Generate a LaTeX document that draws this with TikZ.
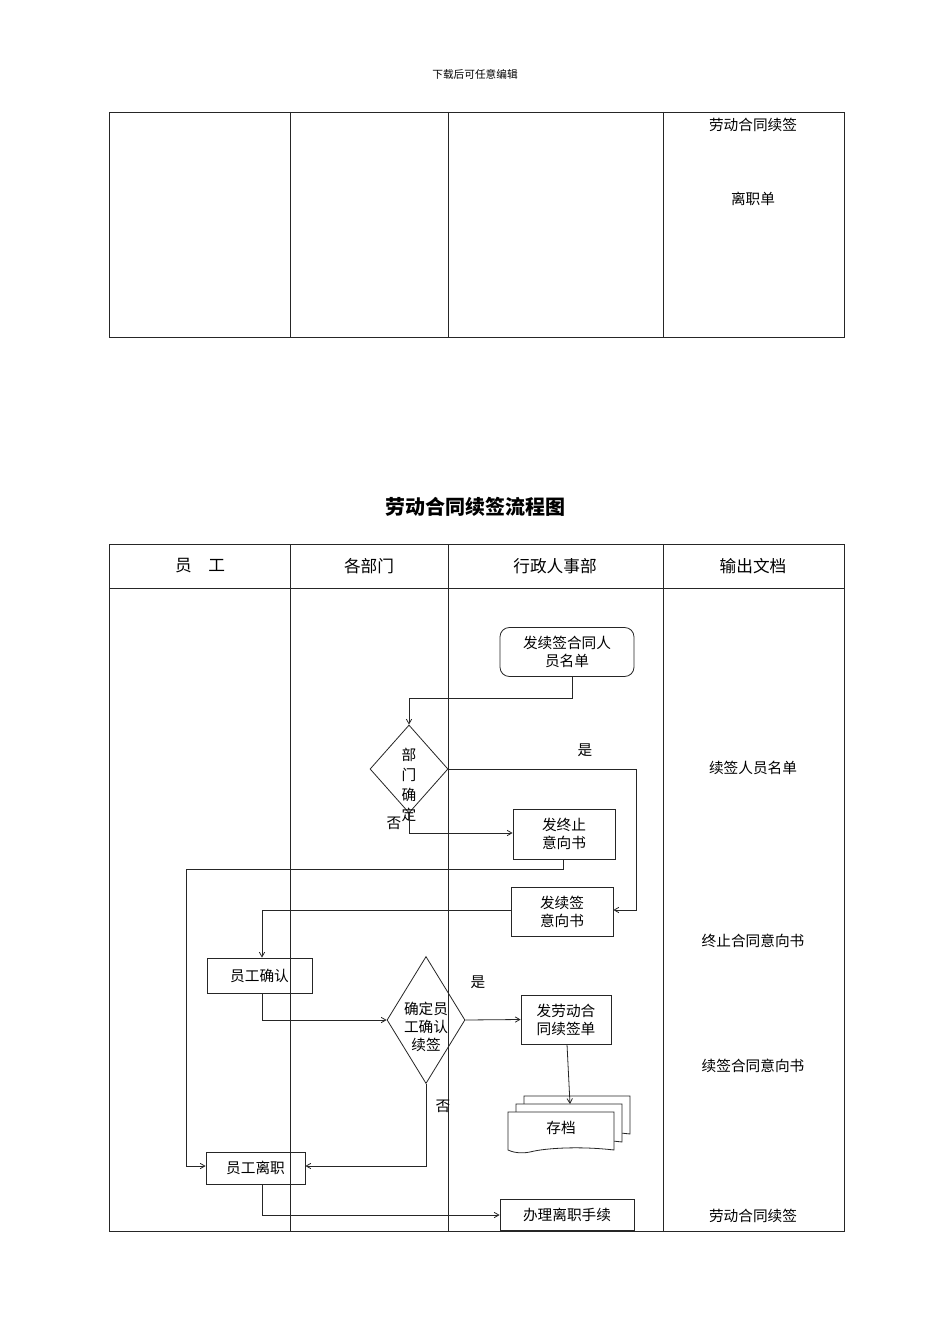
\documentclass[tikz,border=0pt]{standalone}
\usepackage{fontspec}
\setmainfont{Noto Sans CJK SC}
\usetikzlibrary{shapes.geometric,arrows.meta}
\begin{document}
\begin{tikzpicture}[x=0.75pt,y=-0.75pt,
  lin/.style={draw=black!85,line width=0.6pt},
  arr/.style={lin,-{Straight Barb[length=3.5pt,width=4pt]}},
  box/.style={draw=black!85,line width=0.6pt,align=center,inner sep=0pt,font=\fontsize{11}{13.5}\selectfont},
  txt/.style={align=center,inner sep=0pt,font=\fontsize{11}{13.5}\selectfont},
  dia/.style={draw=black!85,line width=0.6pt,diamond,inner sep=0pt}]
\useasboundingbox[fill=white] (0,0) rectangle (950,1344);
\node[font=\fontsize{8}{10}\selectfont] (hd) at (475,74) {下载后可任意编辑};
% top table
\draw[lin] (109,112) rectangle (844,337);
\foreach \x in {290,448,663} \draw[lin] (\x,112) -- (\x,337);
\node[txt] (t1) at (753,125) {劳动合同续签};
\node[txt] (t2) at (753,199) {离职单};
% title
\node[font=\fontsize{15}{18}\selectfont\bfseries] (title) at (475,507) {劳动合同续签流程图};
% main table
\draw[lin] (109,544) rectangle (844,1231);
\draw[lin] (109,588) -- (844,588);
\foreach \x in {290,448,663} \draw[lin] (\x,544) -- (\x,1231);
\node[txt,font=\fontsize{12.5}{15}\selectfont] (h1) at (200,566) {员\quad 工};
\node[txt,font=\fontsize{12.5}{15}\selectfont] (h2) at (369,566) {各部门};
\node[txt,font=\fontsize{12.5}{15}\selectfont] (h3) at (555,566) {行政人事部};
\node[txt,font=\fontsize{12.5}{15}\selectfont] (h4) at (753,566) {输出文档};
% nodes
\node[box,rounded corners=7pt,minimum width=134*0.75pt,minimum height=49*0.75pt] (n1) at (567,652) {发续签合同人\\员名单};
\node[dia,minimum width=78*0.75pt,minimum height=88*0.75pt] (d1) at (409,769) {};
\node[txt,font=\fontsize{11}{15}\selectfont] (d1t) at (409,785) {部\\门\\确\\定};
\node[box,minimum width=102*0.75pt,minimum height=50*0.75pt] (n3) at (564,834) {发终止\\意向书};
\node[box,minimum width=102*0.75pt,minimum height=49*0.75pt] (n4) at (562,912) {发续签\\意向书};
\node[box,minimum width=105*0.75pt,minimum height=35*0.75pt] (n5) at (259.5,975.5) {员工确认};
\node[dia,minimum width=78*0.75pt,minimum height=127*0.75pt] (d2) at (426,1020) {};
\node[txt] (d2t) at (426,1027) {确定员\\工确认\\续签};
\node[box,minimum width=90*0.75pt,minimum height=49*0.75pt] (n7) at (566,1019.5) {发劳动合\\同续签单};
\node[box,minimum width=99*0.75pt,minimum height=32*0.75pt] (n6) at (255.5,1168) {员工离职};
\node[box,minimum width=134*0.75pt,minimum height=31*0.75pt] (n8) at (567,1215) {办理离职手续};
% document stack
\coordinate (st) at (570,1104);
\foreach \d in {16,8,0}{
  \draw[lin,fill=white] (508+\d,1112-\d) -- (614+\d,1112-\d) -- (614+\d,1150-\d)
     .. controls (580+\d,1146-\d) and (545+\d,1148-\d) .. (530+\d,1152-\d)
     .. controls (520+\d,1154-\d) and (512+\d,1152-\d) .. (508+\d,1150-\d) -- cycle;}
\node[txt] (n9) at (561,1128) {存档};
% labels
\node[txt] (y1) at (585,750) {是};
\node[txt] (no1) at (394,823) {否};
\node[txt] (y2) at (478,982) {是};
\node[txt] (no2) at (443,1106) {否};
% outputs
\node[txt] (o1) at (753,768) {续签人员名单};
\node[txt] (o2) at (753,941) {终止合同意向书};
\node[txt] (o3) at (753,1066) {续签合同意向书};
\node[txt] (o4) at (753,1216) {劳动合同续签};
% connectors
\draw[arr] (n1.south -| 572,0) -- (572,698) -- (409,698) -- (d1.north);
\draw[arr] (d1.east) -- (636,769) -- (636,910) -- (n4.east |- 0,910);
\draw[arr] (d1.south) -- (409,833) -- (n3.west |- 0,833);
\draw[arr] (n3.south -| 563,0) -- (563,869) -- (186,869) -- (186,1166) -- (n6.west |- 0,1166);
\draw[arr] (n4.west |- 0,910) -- (262,910) -- (n5.north -| 262,0);
\draw[arr] (n5.south -| 262,0) -- (262,1020) -- (d2.west);
\draw[arr] (d2.east) -- (n7.west);
\draw[arr] (n7.south -| 567,0) -- (st);
\draw[arr] (d2.south) -- (426,1166) -- (n6.east |- 0,1166);
\draw[arr] (n6.south -| 262,0) -- (262,1215) -- (n8.west);
\end{tikzpicture}
\end{document}
